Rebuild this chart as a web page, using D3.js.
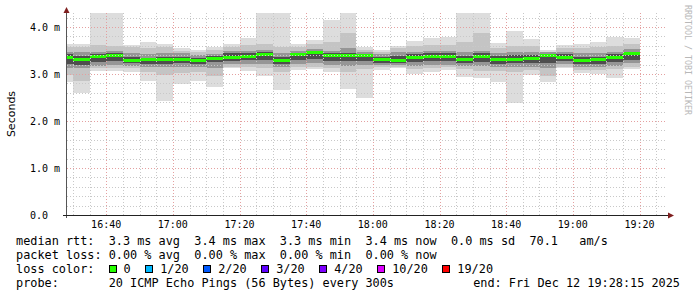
<!DOCTYPE html>
<html>
<head>
<meta charset="utf-8">
<script src="https://cdn.jsdelivr.net/npm/d3@7"></script>
<style>
  body { margin: 0; background: #fff; }
  svg { display: block; }
  .mono { font-family: "DejaVu Sans Mono", monospace; }
</style>
</head>
<body>
<svg width="697" height="297"></svg>
<script>
var width = 697, height = 297;

// column end times (5 minute steps)
var times = ["16:30","16:35","16:40","16:45","16:50","16:55","17:00","17:05","17:10","17:15",
  "17:20","17:25","17:30","17:35","17:40","17:45","17:50","17:55","18:00","18:05",
  "18:10","18:15","18:20","18:25","18:30","18:35","18:40","18:45","18:50","18:55",
  "19:00","19:05","19:10","19:15","19:20"];

// rtt in ms: min / max, then narrower smoke bands, then the median
var rttMin = [2.84,2.59,3.07,3.07,3.05,2.86,2.43,2.79,2.86,2.73,3.12,3.07,2.96,2.66,3.09,3.10,3.05,2.68,2.50,3.09,
  3.12,3.00,3.05,3.09,2.94,2.91,2.84,2.39,2.97,2.84,3.12,3.03,3.00,2.92,3.11];
var rttMax = [3.65,3.65,4.30,4.30,3.62,3.69,3.65,3.55,3.52,3.58,3.64,3.77,4.30,4.30,3.65,3.72,4.15,4.30,3.57,3.52,
  3.60,3.70,3.76,3.79,4.30,4.30,3.67,3.91,3.74,3.51,3.62,3.63,3.68,3.79,3.77];
var bandLoB = [2.97,2.86,3.12,3.12,3.12,3.05,2.98,3.02,3.05,2.96,3.16,3.14,3.12,3.05,3.14,3.16,3.12,3.05,3.10,3.14,
  3.16,3.10,3.12,3.14,3.10,3.06,3.06,3.05,3.08,2.96,3.16,3.08,3.08,3.10,3.16];
var bandHiB = [3.58,3.58,3.62,3.60,3.58,3.55,3.57,3.50,3.48,3.52,3.58,3.62,3.65,3.58,3.58,3.64,3.69,3.88,3.52,3.48,
  3.55,3.60,3.62,3.62,3.69,3.87,3.56,3.60,3.60,3.48,3.56,3.56,3.58,3.60,3.64];
var bandLoC = [3.12,3.12,3.18,3.20,3.18,3.15,3.14,3.14,3.14,3.12,3.22,3.22,3.22,3.16,3.22,3.24,3.20,3.18,3.20,3.20,
  3.20,3.18,3.20,3.20,3.18,3.18,3.16,3.16,3.16,3.12,3.22,3.15,3.16,3.18,3.24];
var bandHiC = [3.48,3.47,3.48,3.50,3.45,3.42,3.45,3.44,3.40,3.43,3.50,3.50,3.52,3.44,3.50,3.54,3.50,3.55,3.46,3.42,
  3.46,3.48,3.50,3.50,3.48,3.50,3.44,3.46,3.46,3.46,3.48,3.44,3.45,3.48,3.54];
var bandLoD = [3.22,3.20,3.26,3.28,3.24,3.22,3.22,3.24,3.22,3.25,3.28,3.30,3.30,3.22,3.30,3.32,3.28,3.28,3.28,3.24,
  3.24,3.26,3.28,3.28,3.24,3.26,3.22,3.24,3.24,3.24,3.28,3.22,3.22,3.26,3.30];
var bandHiD = [3.42,3.38,3.42,3.44,3.36,3.35,3.36,3.37,3.34,3.38,3.44,3.44,3.46,3.36,3.45,3.48,3.44,3.44,3.42,3.36,
  3.38,3.42,3.44,3.44,3.38,3.44,3.38,3.40,3.40,3.42,3.42,3.36,3.37,3.42,3.48];
var median = [3.35,3.30,3.37,3.40,3.28,3.30,3.30,3.32,3.28,3.33,3.35,3.38,3.42,3.28,3.42,3.45,3.39,3.39,3.39,3.31,
  3.28,3.36,3.38,3.37,3.30,3.37,3.30,3.31,3.33,3.40,3.36,3.28,3.30,3.35,3.43];

var yTicks = [0, 1, 2, 3, 4];
var yTickLabels = ["0.0", "1.0 m", "2.0 m", "3.0 m", "4.0 m"];
var xTicks = ["16:40","17:00","17:20","17:40","18:00","18:20","18:40","19:00","19:20"];

var lossLabels = ["0", "1/20", "2/20", "3/20", "4/20", "10/20", "19/20"];
var lossColors = ["#26ff00", "#00b8ff", "#0059ff", "#5e00ff", "#7e00ff", "#dd00ff", "#ff0000"];

var legendLines = [
  "median rtt:  3.3 ms avg  3.4 ms max  3.3 ms min  3.4 ms now  0.0 ms sd  70.1   am/s",
  "packet loss: 0.00 % avg  0.00 % max  0.00 % min  0.00 % now",
  "loss color:",
  "probe:       20 ICMP Echo Pings (56 Bytes) every 300s"
];

var parseTime = function(s) {
  var p = s.split(":");
  return new Date(2025, 11, 12, +p[0], +p[1], 0);
};

var x = d3.scaleTime()
  .domain([new Date(2025, 11, 12, 16, 28, 15), new Date(2025, 11, 12, 19, 28, 15)])
  .range([67, 667]);

var y = d3.scaleLinear()
  .domain([0, 4.3])
  .range([215, 13]);

var svg = d3.select("svg");

svg.append("rect").attr("width", width).attr("height", height).attr("fill", "#fff");

svg.append("clipPath").attr("id", "plot")
  .append("rect").attr("x", 67).attr("y", 13).attr("width", 600).attr("height", 202);

var cols = times.map(function(t, i) {
  var end = parseTime(t);
  return {
    x0: x(d3.timeMinute.offset(end, -5)), x1: x(end),
    min: rttMin[i], max: rttMax[i],
    loB: bandLoB[i], hiB: bandHiB[i],
    loC: bandLoC[i], hiC: bandHiC[i],
    loD: bandLoD[i], hiD: bandHiD[i],
    med: median[i]
  };
});

var plot = svg.append("g").attr("clip-path", "url(#plot)");

// smoke, outer bands first
var bands = [
  { lo: "min", hi: "max", color: "#dddddd" },
  { lo: "loB", hi: "hiB", color: "#c4c4c4" },
  { lo: "loC", hi: "hiC", color: "#969696" },
  { lo: "loD", hi: "hiD", color: "#4e4e4e" }
];

bands.forEach(function(b) {
  plot.append("g").selectAll("rect")
    .data(cols)
    .enter().append("rect")
    .attr("x", function(d) { return d.x0; })
    .attr("width", function(d) { return d.x1 - d.x0; })
    .attr("y", function(d) { return y(d[b.hi]); })
    .attr("height", function(d) { return y(d[b.lo]) - y(d[b.hi]); })
    .attr("fill", b.color)
    .attr("shape-rendering", "crispEdges");
});

// median bar, coloured by loss (all 0 here)
plot.append("g").selectAll("rect")
  .data(cols)
  .enter().append("rect")
  .attr("x", function(d) { return d.x0; })
  .attr("width", function(d) { return d.x1 - d.x0; })
  .attr("y", function(d) { return y(d.med) - 1.5; })
  .attr("height", 3)
  .attr("fill", lossColors[0])
  .attr("shape-rendering", "crispEdges");

// grid drawn over the data
var grid = svg.append("g").attr("shape-rendering", "crispEdges");

var minorY = d3.range(0.2, 4.3, 0.2).filter(function(v) { return Math.abs(v - Math.round(v)) > 0.01; });
grid.selectAll(".hminor")
  .data(minorY)
  .enter().append("line")
  .attr("x1", 67).attr("x2", 667)
  .attr("y1", function(d) { return Math.round(y(d)) + 0.5; })
  .attr("y2", function(d) { return Math.round(y(d)) + 0.5; })
  .attr("stroke", "#c8c8c8")
  .attr("stroke-dasharray", "1,2");

var minorX = d3.timeMinute.every(5).range(x.domain()[0], x.domain()[1])
  .filter(function(d) { return d.getMinutes() % 20 !== 0; });
grid.selectAll(".vminor")
  .data(minorX)
  .enter().append("line")
  .attr("y1", 13).attr("y2", 215)
  .attr("x1", function(d) { return Math.round(x(d)) + 0.5; })
  .attr("x2", function(d) { return Math.round(x(d)) + 0.5; })
  .attr("stroke", "#c8c8c8")
  .attr("stroke-dasharray", "1,2");

grid.selectAll(".hmajor")
  .data(yTicks.slice(1))
  .enter().append("line")
  .attr("x1", 67).attr("x2", 667)
  .attr("y1", function(d) { return Math.round(y(d)) + 0.5; })
  .attr("y2", function(d) { return Math.round(y(d)) + 0.5; })
  .attr("stroke", "#e4a0a0")
  .attr("stroke-dasharray", "1,2");

grid.selectAll(".vmajor")
  .data(xTicks)
  .enter().append("line")
  .attr("y1", 13).attr("y2", 215)
  .attr("x1", function(d) { return Math.round(x(parseTime(d))) + 0.5; })
  .attr("x2", function(d) { return Math.round(x(parseTime(d))) + 0.5; })
  .attr("stroke", "#e4a0a0")
  .attr("stroke-dasharray", "1,2");

// axes
var axis = svg.append("g").attr("shape-rendering", "crispEdges");
axis.append("line").attr("x1", 66.5).attr("x2", 66.5).attr("y1", 12).attr("y2", 218)
  .attr("stroke", "#555");
axis.append("line").attr("x1", 63).attr("x2", 670).attr("y1", 215.5).attr("y2", 215.5)
  .attr("stroke", "#222");
svg.append("path").attr("d", "M63.5,13 L66.5,7 L69.5,13 Z").attr("fill", "#7f1f1f");
svg.append("path").attr("d", "M668,212.5 L674,215.5 L668,218.5 Z").attr("fill", "#7f1f1f");

// y tick labels
svg.append("g").selectAll("text")
  .data(yTicks)
  .enter().append("text")
  .attr("class", "mono")
  .attr("x", 30)
  .attr("y", function(d) { return y(d) + 3.8; })
  .attr("font-size", "10px")
  .attr("fill", "#000")
  .text(function(d, i) { return yTickLabels[i]; });

// x tick labels
svg.append("g").selectAll("text")
  .data(xTicks)
  .enter().append("text")
  .attr("class", "mono")
  .attr("x", function(d) { return x(parseTime(d)); })
  .attr("y", 228)
  .attr("text-anchor", "middle")
  .attr("font-size", "10px")
  .attr("fill", "#000")
  .text(function(d) { return d; });

svg.append("text")
  .attr("transform", "translate(15,114) rotate(-90)")
  .attr("text-anchor", "middle")
  .attr("font-family", "DejaVu Sans, sans-serif")
  .attr("font-size", "11px")
  .attr("fill", "#000")
  .text("Seconds");

svg.append("text")
  .attr("class", "mono")
  .attr("transform", "translate(685,5) rotate(90)")
  .attr("font-size", "8.3px")
  .attr("fill", "#b8b8b8")
  .text("RRDTOOL / TOBI OETIKER");

// legend
var charW = 7.13;
svg.append("g").selectAll("text")
  .data(legendLines)
  .enter().append("text")
  .attr("class", "mono")
  .attr("x", 16)
  .attr("y", function(d, i) { return 245 + i * 14; })
  .attr("font-size", "11.85px")
  .attr("fill", "#000")
  .style("white-space", "pre")
  .text(function(d) { return d; });

var bx = 108.5, items = [];
lossLabels.forEach(function(l, i) {
  items.push({ x: bx, label: l, color: lossColors[i] });
  bx += 15 + l.length * charW + 14.5;
});
var leg = svg.append("g").selectAll("g")
  .data(items)
  .enter().append("g");
leg.append("rect")
  .attr("x", function(d) { return Math.round(d.x) + 0.5; })
  .attr("y", 265.5)
  .attr("width", 7).attr("height", 7)
  .attr("fill", function(d) { return d.color; })
  .attr("stroke", "#000")
  .attr("shape-rendering", "crispEdges");
leg.append("text")
  .attr("class", "mono")
  .attr("x", function(d) { return d.x + 15; })
  .attr("y", 273)
  .attr("font-size", "11.85px")
  .attr("fill", "#000")
  .text(function(d) { return d.label; });

svg.append("text")
  .attr("class", "mono")
  .attr("x", 680)
  .attr("y", 287)
  .attr("text-anchor", "end")
  .attr("font-size", "11.85px")
  .attr("fill", "#000")
  .text("end: Fri Dec 12 19:28:15 2025");
</script>
</body>
</html>
